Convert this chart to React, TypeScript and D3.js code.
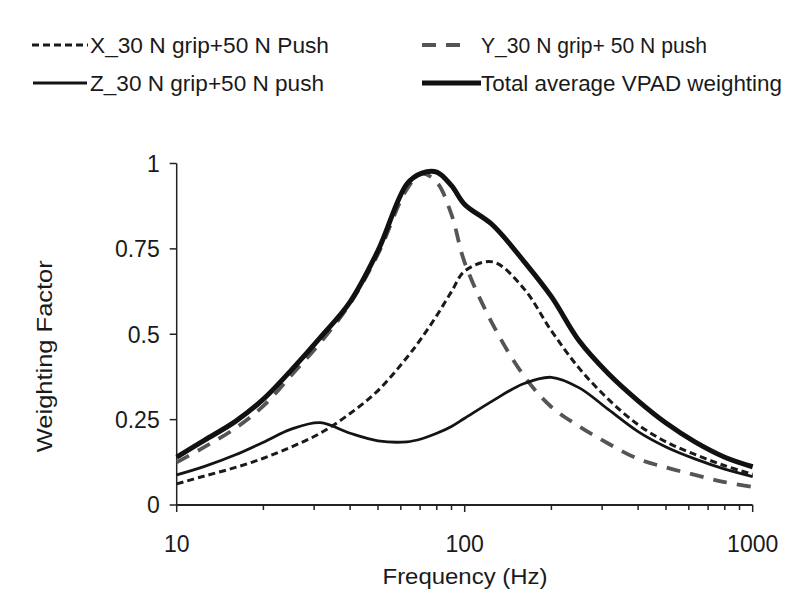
import React from "react";
import * as d3 from "d3";

const freqs = [10, 12.5, 16, 20, 25, 31.5, 40, 50, 63, 71, 80, 90, 100, 125, 160, 200, 250, 315, 400, 500, 630, 800, 1000];
const xSeries = [0.062, 0.085, 0.11, 0.137, 0.17, 0.21, 0.268, 0.335, 0.432, 0.49, 0.555, 0.625, 0.685, 0.712, 0.635, 0.51, 0.4, 0.31, 0.235, 0.185, 0.148, 0.115, 0.09];
const ySeries = [0.125, 0.17, 0.225, 0.29, 0.38, 0.475, 0.59, 0.735, 0.925, 0.97, 0.945, 0.85, 0.71, 0.53, 0.38, 0.287, 0.23, 0.18, 0.135, 0.11, 0.088, 0.067, 0.053];
const zSeries = [0.088, 0.113, 0.147, 0.184, 0.222, 0.241, 0.21, 0.188, 0.185, 0.194, 0.21, 0.23, 0.254, 0.305, 0.355, 0.374, 0.343, 0.28, 0.215, 0.17, 0.135, 0.105, 0.083];
const totalSeries = [0.14, 0.19, 0.245, 0.31, 0.395, 0.49, 0.595, 0.745, 0.94, 0.972, 0.975, 0.935, 0.88, 0.82, 0.715, 0.61, 0.48, 0.385, 0.305, 0.24, 0.185, 0.14, 0.112];

const yTicks = [0, 0.25, 0.5, 0.75, 1];
const yTickLabels = ["0", "0.25", "0.5", "0.75", "1"];
const xMajor = [10, 100, 1000];
const xMajorLabels = ["10", "100", "1000"];
const xMinor = [20, 30, 40, 50, 60, 70, 80, 90, 200, 300, 400, 500, 600, 700, 800, 900];

const legendLabels = [
  "X_30 N grip+50 N Push",
  "Y_30 N grip+ 50 N push",
  "Z_30 N grip+50 N push",
  "Total average VPAD weighting",
];

const FONT = "'Liberation Sans', Arial, sans-serif";

export default function App() {
  const x = d3.scaleLog().domain([10, 1000]).range([176.7, 752.7]);
  const y = d3.scaleLinear().domain([0, 1]).range([505, 163.5]);
  const line = (vals: number[]) =>
    d3
      .line<number>()
      .x((_, i) => x(freqs[i]))
      .y((v) => y(v))
      .curve(d3.curveCatmullRom.alpha(0.5))(vals) || "";

  const series = [
    { vals: xSeries, stroke: "#1a1a1a", width: 3, dash: "7 4" },
    { vals: ySeries, stroke: "#555555", width: 3.8, dash: "14 10" },
    { vals: zSeries, stroke: "#141414", width: 2.8, dash: "" },
    { vals: totalSeries, stroke: "#111111", width: 5, dash: "" },
  ];

  const legendPos = [
    { lx1: 32, lx2: 88, tx: 90, ty: 45, tl: 239 },
    { lx1: 422, lx2: 460, tx: 481, ty: 45, tl: 226 },
    { lx1: 33, lx2: 87, tx: 90, ty: 83, tl: 234 },
    { lx1: 422, lx2: 481, tx: 481, ty: 83, tl: 301 },
  ];

  return (
    <svg width={800} height={600} style={{ position: "absolute", left: 0, top: 0, background: "#fff" }} fontFamily={FONT}>
      <rect x={0} y={0} width={800} height={600} fill="#fff" />
      {/* legend */}
      {legendLabels.map((lab, i) => {
        const p = legendPos[i];
        const s = series[i];
        return (
          <g key={lab}>
            <line x1={p.lx1} x2={p.lx2} y1={p.ty} y2={p.ty} stroke={s.stroke} strokeWidth={s.width} strokeDasharray={s.dash || undefined} />
            <text x={p.tx} y={p.ty} dy="0.35em" fontSize={22} fill="#1a1a1a" textLength={p.tl} lengthAdjust="spacingAndGlyphs">
              {lab}
            </text>
          </g>
        );
      })}
      {/* axes */}
      <line x1={x(10)} x2={x(10)} y1={y(1)} y2={y(0)} stroke="#222" strokeWidth={1.5} />
      <line x1={x(10)} x2={x(1000)} y1={y(0)} y2={y(0)} stroke="#222" strokeWidth={2} />
      {yTicks.map((t, i) => (
        <g key={"yt" + t}>
          <line x1={x(10) - 7} x2={x(10)} y1={y(t)} y2={y(t)} stroke="#222" strokeWidth={1.5} />
          <text x={x(10) - 17} y={y(t)} dy="0.36em" textAnchor="end" fontSize={23} fill="#1a1a1a">
            {yTickLabels[i]}
          </text>
        </g>
      ))}
      {xMajor.map((t, i) => (
        <g key={"xt" + t}>
          <line x1={x(t)} x2={x(t)} y1={y(0)} y2={y(0) + 7} stroke="#222" strokeWidth={1.5} />
          <text x={x(t)} y={y(0) + 47} textAnchor="middle" fontSize={23} fill="#1a1a1a">
            {xMajorLabels[i]}
          </text>
        </g>
      ))}
      {xMinor.map((t) => (
        <line key={"xm" + t} x1={x(t)} x2={x(t)} y1={y(0)} y2={y(0) + 5} stroke="#222" strokeWidth={1.5} />
      ))}
      <text x={465} y={584} textAnchor="middle" fontSize={22} fill="#1a1a1a" textLength={165} lengthAdjust="spacingAndGlyphs">
        Frequency (Hz)
      </text>
      <text transform={`translate(52,${(y(0) + y(1)) / 2 + 22}) rotate(-90)`} textAnchor="middle" fontSize={22} fill="#1a1a1a" textLength={192} lengthAdjust="spacingAndGlyphs">
        Weighting Factor
      </text>
      {/* curves */}
      {series.map((s, i) => (
        <path key={"s" + i} d={line(s.vals)} fill="none" stroke={s.stroke} strokeWidth={s.width} strokeDasharray={s.dash || undefined} strokeLinecap="butt" strokeLinejoin="round" />
      ))}
    </svg>
  );
}
